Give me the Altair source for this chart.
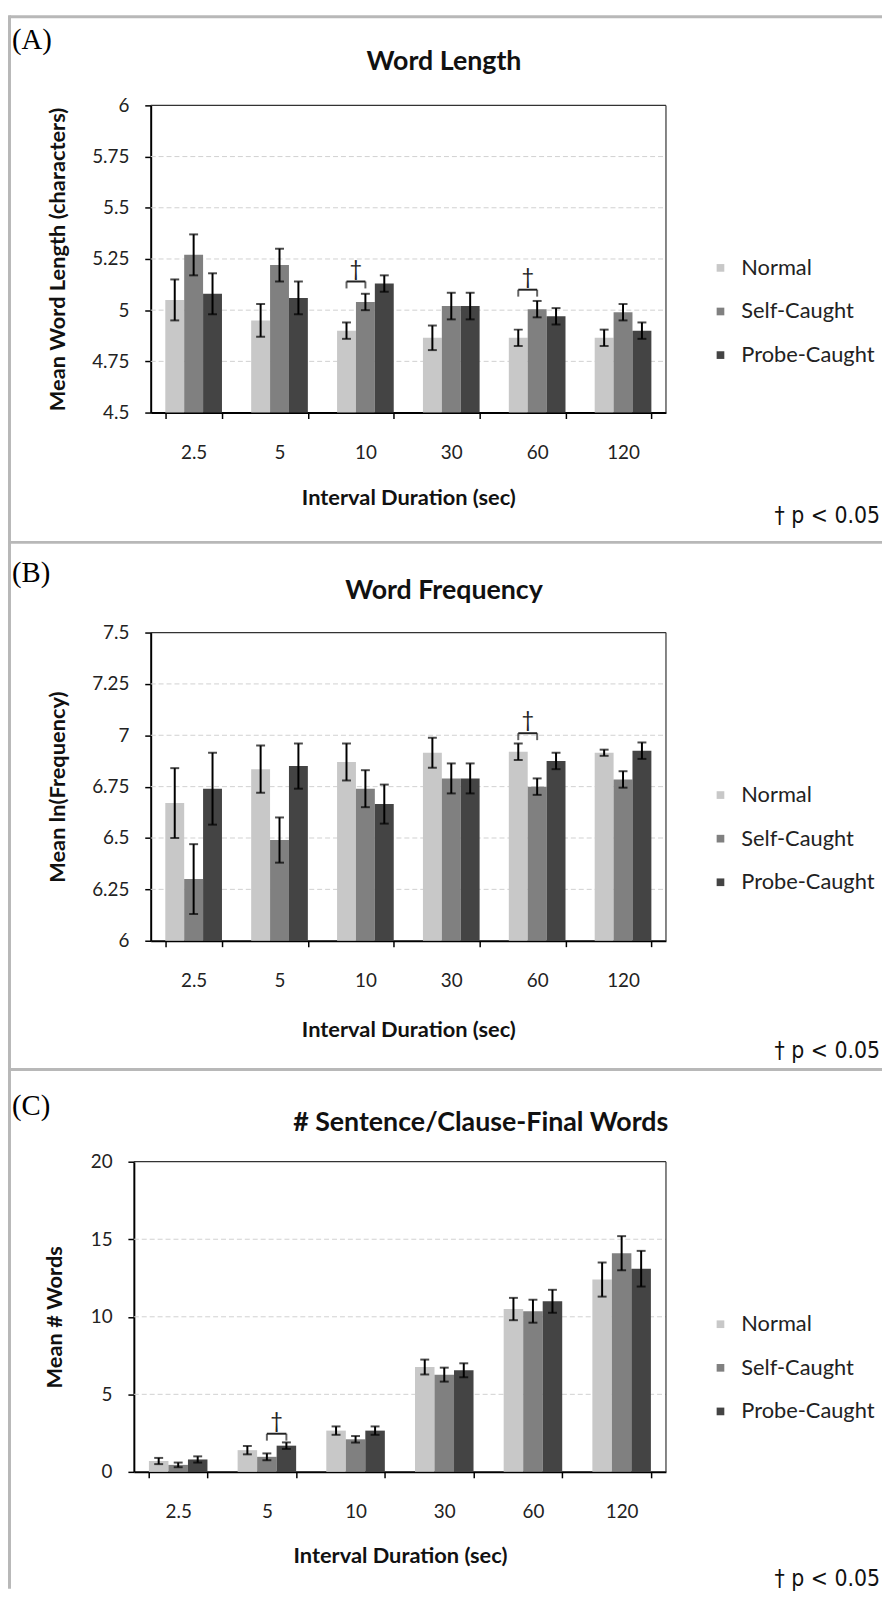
import altair as alt
import pandas as pd

durations = ["2.5", "5", "10", "30", "60", "120"]
conditions = ["Normal", "Self-Caught", "Probe-Caught"]
bar_colors = ["#c8c8c8", "#808080", "#444444"]

# (A) Word length: means and error half-widths
wl_normal = [5.05, 4.95, 4.90, 4.865, 4.865, 4.865]
wl_normal_err = [0.10, 0.08, 0.04, 0.06, 0.04, 0.04]
wl_self = [5.27, 5.22, 5.04, 5.02, 5.005, 4.99]
wl_self_err = [0.10, 0.08, 0.04, 0.065, 0.04, 0.04]
wl_probe = [5.08, 5.06, 5.13, 5.02, 4.97, 4.90]
wl_probe_err = [0.10, 0.08, 0.04, 0.065, 0.04, 0.04]
wl_ticks = [4.5, 4.75, 5, 5.25, 5.5, 5.75, 6]
wl_sig_durations = ["10", "60"]
wl_sig_heights = [5.14, 5.10]
wl_sig_pair = ["Normal", "Self-Caught"]

# (B) Word frequency
wf_normal = [6.67, 6.835, 6.87, 6.915, 6.92, 6.915]
wf_normal_err = [0.17, 0.115, 0.09, 0.073, 0.04, 0.015]
wf_self = [6.30, 6.49, 6.74, 6.79, 6.75, 6.785]
wf_self_err = [0.17, 0.11, 0.09, 0.073, 0.04, 0.04]
wf_probe = [6.74, 6.85, 6.665, 6.79, 6.875, 6.925]
wf_probe_err = [0.175, 0.11, 0.095, 0.073, 0.04, 0.04]
wf_ticks = [6, 6.25, 6.5, 6.75, 7, 7.25, 7.5]
wf_sig_durations = ["60"]
wf_sig_heights = [7.01]
wf_sig_pair = ["Normal", "Self-Caught"]

# (C) # Sentence/clause-final words
fw_normal = [0.70, 1.40, 2.66, 6.76, 10.50, 12.40]
fw_normal_err = [0.20, 0.27, 0.27, 0.48, 0.72, 1.10]
fw_self = [0.45, 0.97, 2.10, 6.27, 10.36, 14.10]
fw_self_err = [0.15, 0.22, 0.21, 0.45, 0.74, 1.10]
fw_probe = [0.80, 1.69, 2.66, 6.55, 11.00, 13.10]
fw_probe_err = [0.20, 0.21, 0.27, 0.45, 0.74, 1.15]
fw_ticks = [0, 5, 10, 15, 20]
fw_sig_durations = ["5"]
fw_sig_heights = [2.46]
fw_sig_pair = ["Self-Caught", "Probe-Caught"]

FONT = "Lato"
P_INNER = 0.34
P_OUTER = 0.17
W_TOTAL = 882
H_TOTAL = 1588


def c(v):
    # page pixel -> chart pixel (page has an 8px margin)
    return v - 8


def make_df(means, errs):
    rows = []
    for cond, m_list, e_list in zip(conditions, means, errs):
        for d, m, e in zip(durations, m_list, e_list):
            rows.append({"duration": d, "condition": cond, "mean": m,
                         "lo": m - e, "hi": m + e})
    return pd.DataFrame(rows)


def one_row(**kw):
    return pd.DataFrame({k: [v] for k, v in kw.items()})


def text_mark(txt, x, y, **kw):
    return alt.Chart(one_row(t=txt)).mark_text(**kw).encode(
        text="t:N", x=alt.value(x), y=alt.value(y))


def panel(df, ticks, sig_d, sig_h, sig_pair, y_title, title, letter, g):
    x0, x1, yt, yb = c(g["x0"]), c(g["x1"]), c(g["yt"]), c(g["yb"])
    xs = alt.Scale(domain=durations, range=[x0, x1],
                   paddingInner=P_INNER, paddingOuter=P_OUTER)
    ys = alt.Scale(domain=[ticks[0], ticks[-1]], range=[yb, yt],
                   nice=False, zero=False)
    xo = alt.Scale(domain=conditions, paddingInner=0, paddingOuter=0)
    x_axis = alt.Axis(orient="bottom", offset=-(H_TOTAL - yb), labelAngle=0,
                      tickBand="extent", tickSize=6, tickColor="black",
                      tickWidth=1.5, domainColor="black", domainWidth=2,
                      labelFont=FONT, labelFontSize=19, labelColor="#222",
                      labelPadding=25, titleFont=FONT, titleFontSize=22,
                      titleFontWeight="bold", titleColor="#111",
                      titlePadding=g["xtp"], grid=False)
    y_axis = alt.Axis(orient="left", offset=-x0, values=ticks, format=".3~g",
                      tickSize=6, tickColor="black", tickWidth=1.5,
                      domainColor="black", domainWidth=2, labelFont=FONT,
                      labelFontSize=19, labelColor="#222", labelPadding=16,
                      titleFont=FONT, titleFontSize=22, titleFontWeight="bold",
                      titleColor="#111", titlePadding=g["ytp"], grid=False)
    xtitle = "Interval Duration (sec)"

    def X(bp=None):
        if bp is None:
            return alt.X("duration:N", sort=durations, scale=xs, axis=x_axis,
                         title=xtitle)
        return alt.X("duration:N", sort=durations, scale=xs, axis=x_axis,
                     title=xtitle, bandPosition=bp)

    def Y(field):
        return alt.Y(field, scale=ys, axis=y_axis, title=y_title)

    XO = alt.XOffset("condition:N", sort=conditions, scale=xo)

    grid = alt.Chart(pd.DataFrame({"v": ticks[1:-1]})).mark_rule(
        color="#d0d0d0", strokeDash=[5, 3], strokeWidth=1).encode(
        y=Y("v:Q"), x=alt.value(x0), x2=alt.value(x1))

    base = alt.Chart(df)
    bars = base.mark_bar(strokeWidth=0).encode(
        x=X(), xOffset=XO, y=Y("mean:Q"), y2=alt.datum(ticks[0]),
        color=alt.Color("condition:N", sort=conditions,
                        scale=alt.Scale(domain=conditions, range=bar_colors),
                        legend=alt.Legend(orient="none", legendX=c(716),
                                          legendY=c(g["ly"]), title=None,
                                          symbolType="square", symbolSize=60,
                                          symbolStrokeWidth=0, labelFont=FONT,
                                          labelFontSize=22, labelColor="#222",
                                          rowPadding=22, labelOffset=10,
                                          padding=0)))
    err = base.mark_rule(color="black", strokeWidth=2).encode(
        x=X(), xOffset=XO, y=Y("lo:Q"), y2="hi:Q")
    cap_lo = base.mark_tick(color="black", thickness=2, size=9,
                            orient="horizontal").encode(x=X(), xOffset=XO, y=Y("lo:Q"))
    cap_hi = base.mark_tick(color="black", thickness=2, size=9,
                            orient="horizontal").encode(x=X(), xOffset=XO, y=Y("hi:Q"))

    # significance bracket (between centres of the two compared bars) + dagger
    sig_rows = [{"duration": d, "condition": cond, "h": h}
                for d, h in zip(sig_d, sig_h) for cond in sig_pair]
    sig_df = pd.DataFrame(sig_rows)
    sbase = alt.Chart(sig_df)
    br_line = sbase.mark_line(color="#222", strokeWidth=2).encode(
        x=X(), xOffset=XO, y=Y("h:Q"), detail="duration:N")
    br_ends = sbase.mark_tick(color="#222", thickness=2, size=7, yOffset=3.5,
                              orient="vertical").encode(x=X(), xOffset=XO, y=Y("h:Q"))
    first = conditions.index(sig_pair[0])
    mid = (first + 1) / 3
    dag_df = pd.DataFrame({"duration": sig_d, "h": sig_h})
    dagger = alt.Chart(dag_df).mark_text(text="\u2020", font=FONT, fontSize=22,
                                         color="#222", baseline="bottom", dy=-1).encode(
        x=X(mid), y=Y("h:Q"))

    border_top = alt.Chart(one_row(k=0)).mark_rule(color="#333", strokeWidth=1.2).encode(
        x=alt.value(x0), x2=alt.value(x1), y=alt.value(yt))
    border_right = alt.Chart(one_row(k=0)).mark_rule(color="#333", strokeWidth=1.2).encode(
        x=alt.value(x1), y=alt.value(yt), y2=alt.value(yb))

    title_t = text_mark(title, c(g["tx"]), c(g["tb"]), font=FONT, fontSize=27,
                        fontWeight="bold", color="#111", align="center",
                        baseline="alphabetic")
    letter_t = text_mark(letter, c(12), c(g["lb"]), font="Liberation Serif",
                         fontSize=29, color="#000", align="left",
                         baseline="alphabetic")
    p_t = text_mark("\u2020 p < 0.05", c(888), c(g["pb"]),
                    font="Liberation Sans Narrow, DejaVu Sans Condensed, DejaVu Sans",
                    fontSize=23, color="#111", align="right", baseline="alphabetic")

    return alt.layer(grid, bars, err, cap_lo, cap_hi, br_line, br_ends, dagger,
                     border_top, border_right, title_t, letter_t, p_t)


geomA = dict(x0=152, x1=672, yt=99, yb=409, xtp=26, ytp=22, ly=252,
             tx=448, tb=63, lb=42, pb=520)
geomB = dict(x0=152, x1=672, yt=631, yb=942, xtp=30, ytp=22, ly=784,
             tx=448, tb=597, lb=580, pb=1060)
geomC = dict(x0=135, x1=672, yt=1165, yb=1478, xtp=24, ytp=24, ly=1318,
             tx=485, tb=1134, lb=1118, pb=1593)

df_a = make_df([wl_normal, wl_self, wl_probe], [wl_normal_err, wl_self_err, wl_probe_err])
df_b = make_df([wf_normal, wf_self, wf_probe], [wf_normal_err, wf_self_err, wf_probe_err])
df_c = make_df([fw_normal, fw_self, fw_probe], [fw_normal_err, fw_self_err, fw_probe_err])

pA = panel(df_a, wl_ticks, wl_sig_durations, wl_sig_heights, wl_sig_pair,
           "Mean Word Length (characters)", "Word Length", "(A)", geomA)
pB = panel(df_b, wf_ticks, wf_sig_durations, wf_sig_heights, wf_sig_pair,
           "Mean ln(Frequency)", "Word Frequency", "(B)", geomB)
pC = panel(df_c, fw_ticks, fw_sig_durations, fw_sig_heights, fw_sig_pair,
           "Mean # Words", "# Sentence/Clause-Final Words", "(C)", geomC)

# figure frame: left edge and separators between panels
frame_color = "#b8b8b8"
frame_v = alt.Chart(one_row(k=0)).mark_rule(color=frame_color, strokeWidth=3).encode(
    x=alt.value(1.5), y=alt.value(0), y2=alt.value(H_TOTAL))
sep_rules = [
    alt.Chart(one_row(k=0)).mark_rule(color=frame_color, strokeWidth=3).encode(
        x=alt.value(1.5), x2=alt.value(W_TOTAL), y=alt.value(yy))
    for yy in [1.5, c(540), c(1072)]
]

chart = alt.layer(pA, pB, pC, frame_v, *sep_rules).resolve_scale(
    x="independent", y="independent", color="independent", xOffset="independent"
).resolve_legend(color="independent").properties(
    width=W_TOTAL, height=H_TOTAL, padding=0, background="white",
    autosize=alt.AutoSizeParams(type="none")
).configure_view(stroke=None)

chart.save("out.html", embed_options={"renderer": "svg", "actions": False})
